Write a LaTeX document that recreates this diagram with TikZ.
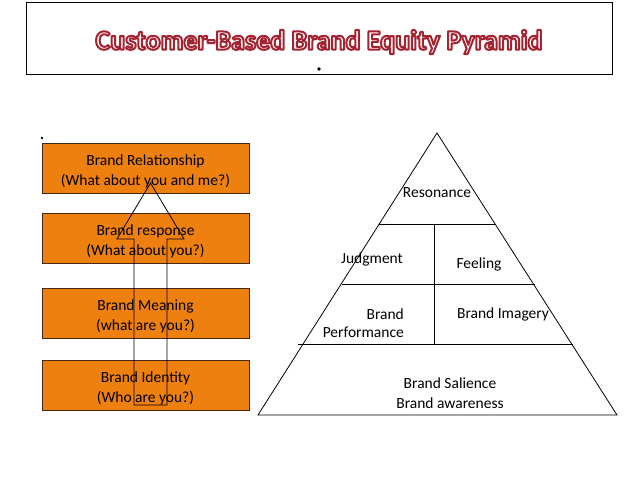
\documentclass[tikz,border=0pt]{standalone}
\usepackage{fontspec}
\setmainfont{Carlito}
\definecolor{boxorange}{RGB}{238,128,16}
\definecolor{boxedge}{RGB}{70,40,20}
\begin{document}
\begin{tikzpicture}[x=1pt,y=-1pt,
  box/.style={draw=boxedge, line width=0.8pt, fill=boxorange, minimum width=207pt, minimum height=50pt, inner sep=0pt},
  lbl/.style={font=\fontsize{15.5}{20}\selectfont, inner sep=0pt, align=center},
  edge/.style={line width=0.8pt},
  ttl/.style={font=\fontsize{28}{30}\selectfont\bfseries, inner sep=0pt}]
\useasboundingbox (0,0) rectangle (638,479);
\fill[white] (0,0) rectangle (638,479);
% title frame
\draw[line width=0.9pt] (26,2) rectangle (612,74);
% outlined title text
\node[ttl] (title) at (319,42) {\special{pdf:literal q 0.647 0.133 0.188 RG 1 g 2 Tr 2 w 1 j}Customer-Based Brand Equity Pyramid\special{pdf:literal Q}};
\fill (319,69) circle (1.8);
\fill (42,138) circle (1.3);
% left boxes
\node[box] (rel) at (145.5,168) {};
\node[box] (resp) at (145.5,238) {};
\node[box] (mean) at (145.5,313.5) {};
\node[box] (ident) at (145.5,385) {};
\node[lbl] (relT) at (145.5,171) {Brand Relationship\\(What about you and me?)};
\node[lbl] (respT) at (145.5,241) {Brand response\\(What about you?)};
\node[lbl] (meanT) at (145.5,316.5) {Brand Meaning\\(what are you?)};
\node[lbl] (identT) at (145.5,388) {Brand Identity\\(Who are you?)};
% block arrow
\draw[edge] (134,405) -- (167,405) -- (167,239) -- (184,239) -- (150.5,183) -- (117,239) -- (134,239) -- cycle;
% pyramid
\coordinate (apex) at (437,133);
\coordinate (bl) at (258,415);
\coordinate (br) at (617,415);
\draw[edge] (apex) -- (bl) -- (br) -- cycle;
\coordinate (l1a) at (379,224); \coordinate (l1b) at (495,224);
\coordinate (l2a) at (342,284); \coordinate (l2b) at (535,284);
\coordinate (l3a) at (298,344); \coordinate (l3b) at (573,344);
\coordinate (va) at (434,224); \coordinate (vb) at (434,344);
\draw[edge] (l1a) -- (l1b);
\draw[edge] (l2a) -- (l2b);
\draw[edge] (l3a) -- (l3b);
\draw[edge] (va) -- (vb);
\node[lbl] (reso) at (437,193) {Resonance};
\node[lbl] (judg) at (372,259) {Judgment};
\node[lbl] (feel) at (479,264) {Feeling};
\node[lbl, align=right, anchor=east, font=\fontsize{15.5}{18}\selectfont] (perf) at (404,323) {Brand\\Performance};
\node[lbl] (imag) at (503,314) {Brand Imagery};
\node[lbl] (sal) at (450,393) {Brand Salience\\Brand awareness};
\end{tikzpicture}
\end{document}
